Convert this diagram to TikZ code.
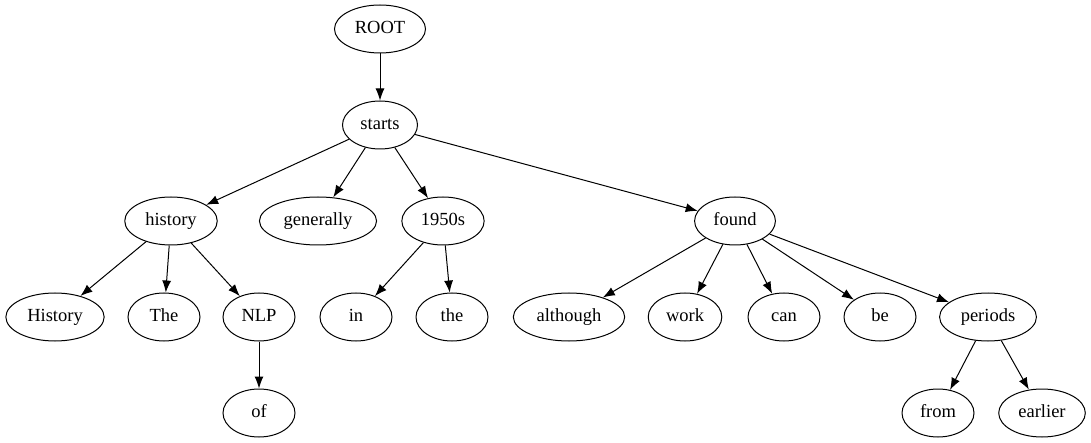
\documentclass[tikz,border=0pt]{standalone}
\usepackage{fontspec}
\setmainfont{Liberation Serif}
\usetikzlibrary{arrows.meta,shapes}

\begin{document}
\begin{tikzpicture}
    [x=1pt, y=-1pt,
    dep/.style={-{Latex[length=12pt,width=9pt]},
    	         black,
    	         line width=1pt},
    tok/.style={ellipse,
    	       draw,
    	       line width=1pt,
    	       inner xsep=7pt,
    	       inner ysep=1pt,
    	       text height=12.5pt,
    	       text depth=4pt,
    	       minimum width=72pt,
    	       minimum height=48pt,
    	       font=\fontsize{18.5}{20}\selectfont}]
    \useasboundingbox (0,0) rectangle (1091,443);
    \node [tok] (Root) at (380,29) {ROOT};
    \node [tok] (Starts) at (380,125) {starts};
    \node [tok] (HistoryLow) at (171,221) {history};
    \node [tok] (Generally) at (318,221) {generally};
    \node [tok] (Year) at (443,221) {1950s};
    \node [tok] (Found) at (735,221) {found};
    \node [tok] (HistoryCap) at (55,317) {History};
    \node [tok] (TheCap) at (164,317) {The};
    \node [tok] (Nlp) at (259,317) {NLP};
    \node [tok] (In) at (356,317) {in};
    \node [tok] (TheLow) at (452,317) {the};
    \node [tok] (Although) at (569,317) {although};
    \node [tok] (Work) at (685,317) {work};
    \node [tok] (Can) at (784,317) {can};
    \node [tok] (Be) at (880,317) {be};
    \node [tok] (Periods) at (988,317) {periods};
    \node [tok] (Of) at (259,413) {of};
    \node [tok] (From) at (938,413) {from};
    \node [tok] (Earlier) at (1042,413) {earlier};
    \draw[dep] (Root) -- (Starts);
    \draw[dep] (Starts) -- (HistoryLow);
    \draw[dep] (Starts) -- (Generally);
    \draw[dep] (Starts) -- (Year);
    \draw[dep] (Starts) -- (Found);
    \draw[dep] (HistoryLow) -- (HistoryCap);
    \draw[dep] (HistoryLow) -- (TheCap);
    \draw[dep] (HistoryLow) -- (Nlp);
    \draw[dep] (Nlp) -- (Of);
    \draw[dep] (Year) -- (In);
    \draw[dep] (Year) -- (TheLow);
    \draw[dep] (Found) -- (Although);
    \draw[dep] (Found) -- (Work);
    \draw[dep] (Found) -- (Can);
    \draw[dep] (Found) -- (Be);
    \draw[dep] (Found) -- (Periods);
    \draw[dep] (Periods) -- (From);
    \draw[dep] (Periods) -- (Earlier);
\end{tikzpicture}
\end{document}
